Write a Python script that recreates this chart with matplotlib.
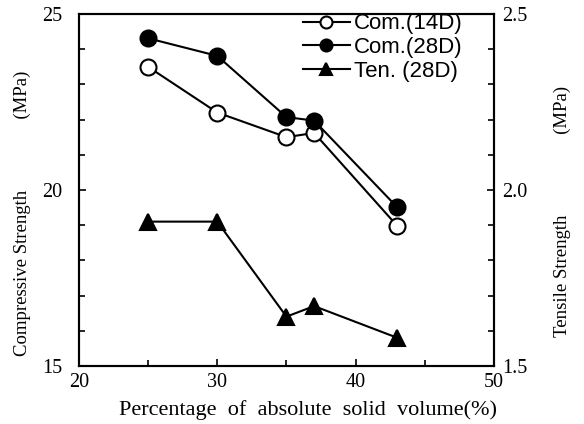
#!/usr/bin/env python3

import matplotlib
matplotlib.use("Agg")
import matplotlib.pyplot as plt
from matplotlib.ticker import MultipleLocator

# data
volume = [25, 30, 35, 37, 43]
com_14d = [23.50, 22.20, 21.50, 21.62, 18.98]
com_28d = [24.31, 23.81, 22.07, 21.97, 19.51]
ten_28d = [1.91, 1.91, 1.64, 1.67, 1.58]

SERIF = "Liberation Serif"
SANS = "Liberation Sans"


def make_chart() -> None:
    """draw compressive (left axis) and tensile (right axis) strength"""
    fig = plt.figure(figsize=(5.84, 4.24), dpi=100)
    ax = fig.add_axes([0.135, 0.137, 0.711, 0.830])
    ax2 = ax.twinx()

    line_kw = dict(color="black", linewidth=1.5, markersize=11.5,
                   markeredgewidth=1.5, markeredgecolor="black")
    l1, = ax.plot(volume, com_14d, marker="o", markerfacecolor="white",
                  label="Com.(14D)", **line_kw)
    l2, = ax.plot(volume, com_28d, marker="o", markerfacecolor="black",
                  label="Com.(28D)", **line_kw)
    l3, = ax2.plot(volume, ten_28d, marker="^", markerfacecolor="black",
                   label="Ten. (28D)", **line_kw)

    ax.set_xlim(20, 50)
    ax.set_ylim(15, 25)
    ax2.set_ylim(1.5, 2.5)

    ax.xaxis.set_major_locator(MultipleLocator(10))
    ax.xaxis.set_minor_locator(MultipleLocator(5))
    ax.yaxis.set_major_locator(MultipleLocator(5))
    ax.yaxis.set_minor_locator(MultipleLocator(1))
    ax2.yaxis.set_major_locator(MultipleLocator(0.5))
    ax2.yaxis.set_minor_locator(MultipleLocator(0.1))
    ax2.set_yticks([1.5, 2.0, 2.5])
    ax2.set_yticklabels(["1.5", "2.0", "2.5"])

    ax.tick_params(axis="both", which="both", direction="in",
                   top=False, right=False, width=1.2)
    ax.tick_params(axis="both", which="major", length=5)
    ax.tick_params(axis="both", which="minor", length=4)
    ax.tick_params(axis="x", pad=5)
    ax.tick_params(axis="y", pad=12)
    ax2.tick_params(axis="y", which="both", direction="in", width=1.2, pad=6)
    ax2.tick_params(axis="y", which="major", length=5)
    ax2.tick_params(axis="y", which="minor", length=4)

    for a in (ax, ax2):
        for sp in a.spines.values():
            sp.set_linewidth(1.5)
        for lbl in a.get_xticklabels() + a.get_yticklabels():
            lbl.set_fontfamily(SERIF)
            lbl.set_fontsize(14.5)

    ax.set_xlabel("Percentage  of  absolute  solid  volume(%)",
                  fontfamily=SERIF, fontsize=16, labelpad=6)
    ax.xaxis.label.set_x(0.552)
    fig.text(0.038, 0.498, "Compressive Strength" + " " * 15 + "(MPa)",
             rotation=90, ha="center", va="center",
             fontfamily=SERIF, fontsize=13.5)
    fig.text(0.963, 0.501, "Tensile Strength" + " " * 17 + "(MPa)",
             rotation=90, ha="center", va="center",
             fontfamily=SERIF, fontsize=13.5)

    ax.legend(handles=[l1, l2, l3], loc="upper left",
              bbox_to_anchor=(0.54, 1.002), frameon=False,
              handlelength=2.1, handletextpad=0.2, labelspacing=0.12,
              borderpad=0, borderaxespad=0, markerscale=0.75,
              prop={"family": SANS, "size": 16})

    fig.savefig("out.png", dpi=100)


if __name__ == "__main__":
    make_chart()
